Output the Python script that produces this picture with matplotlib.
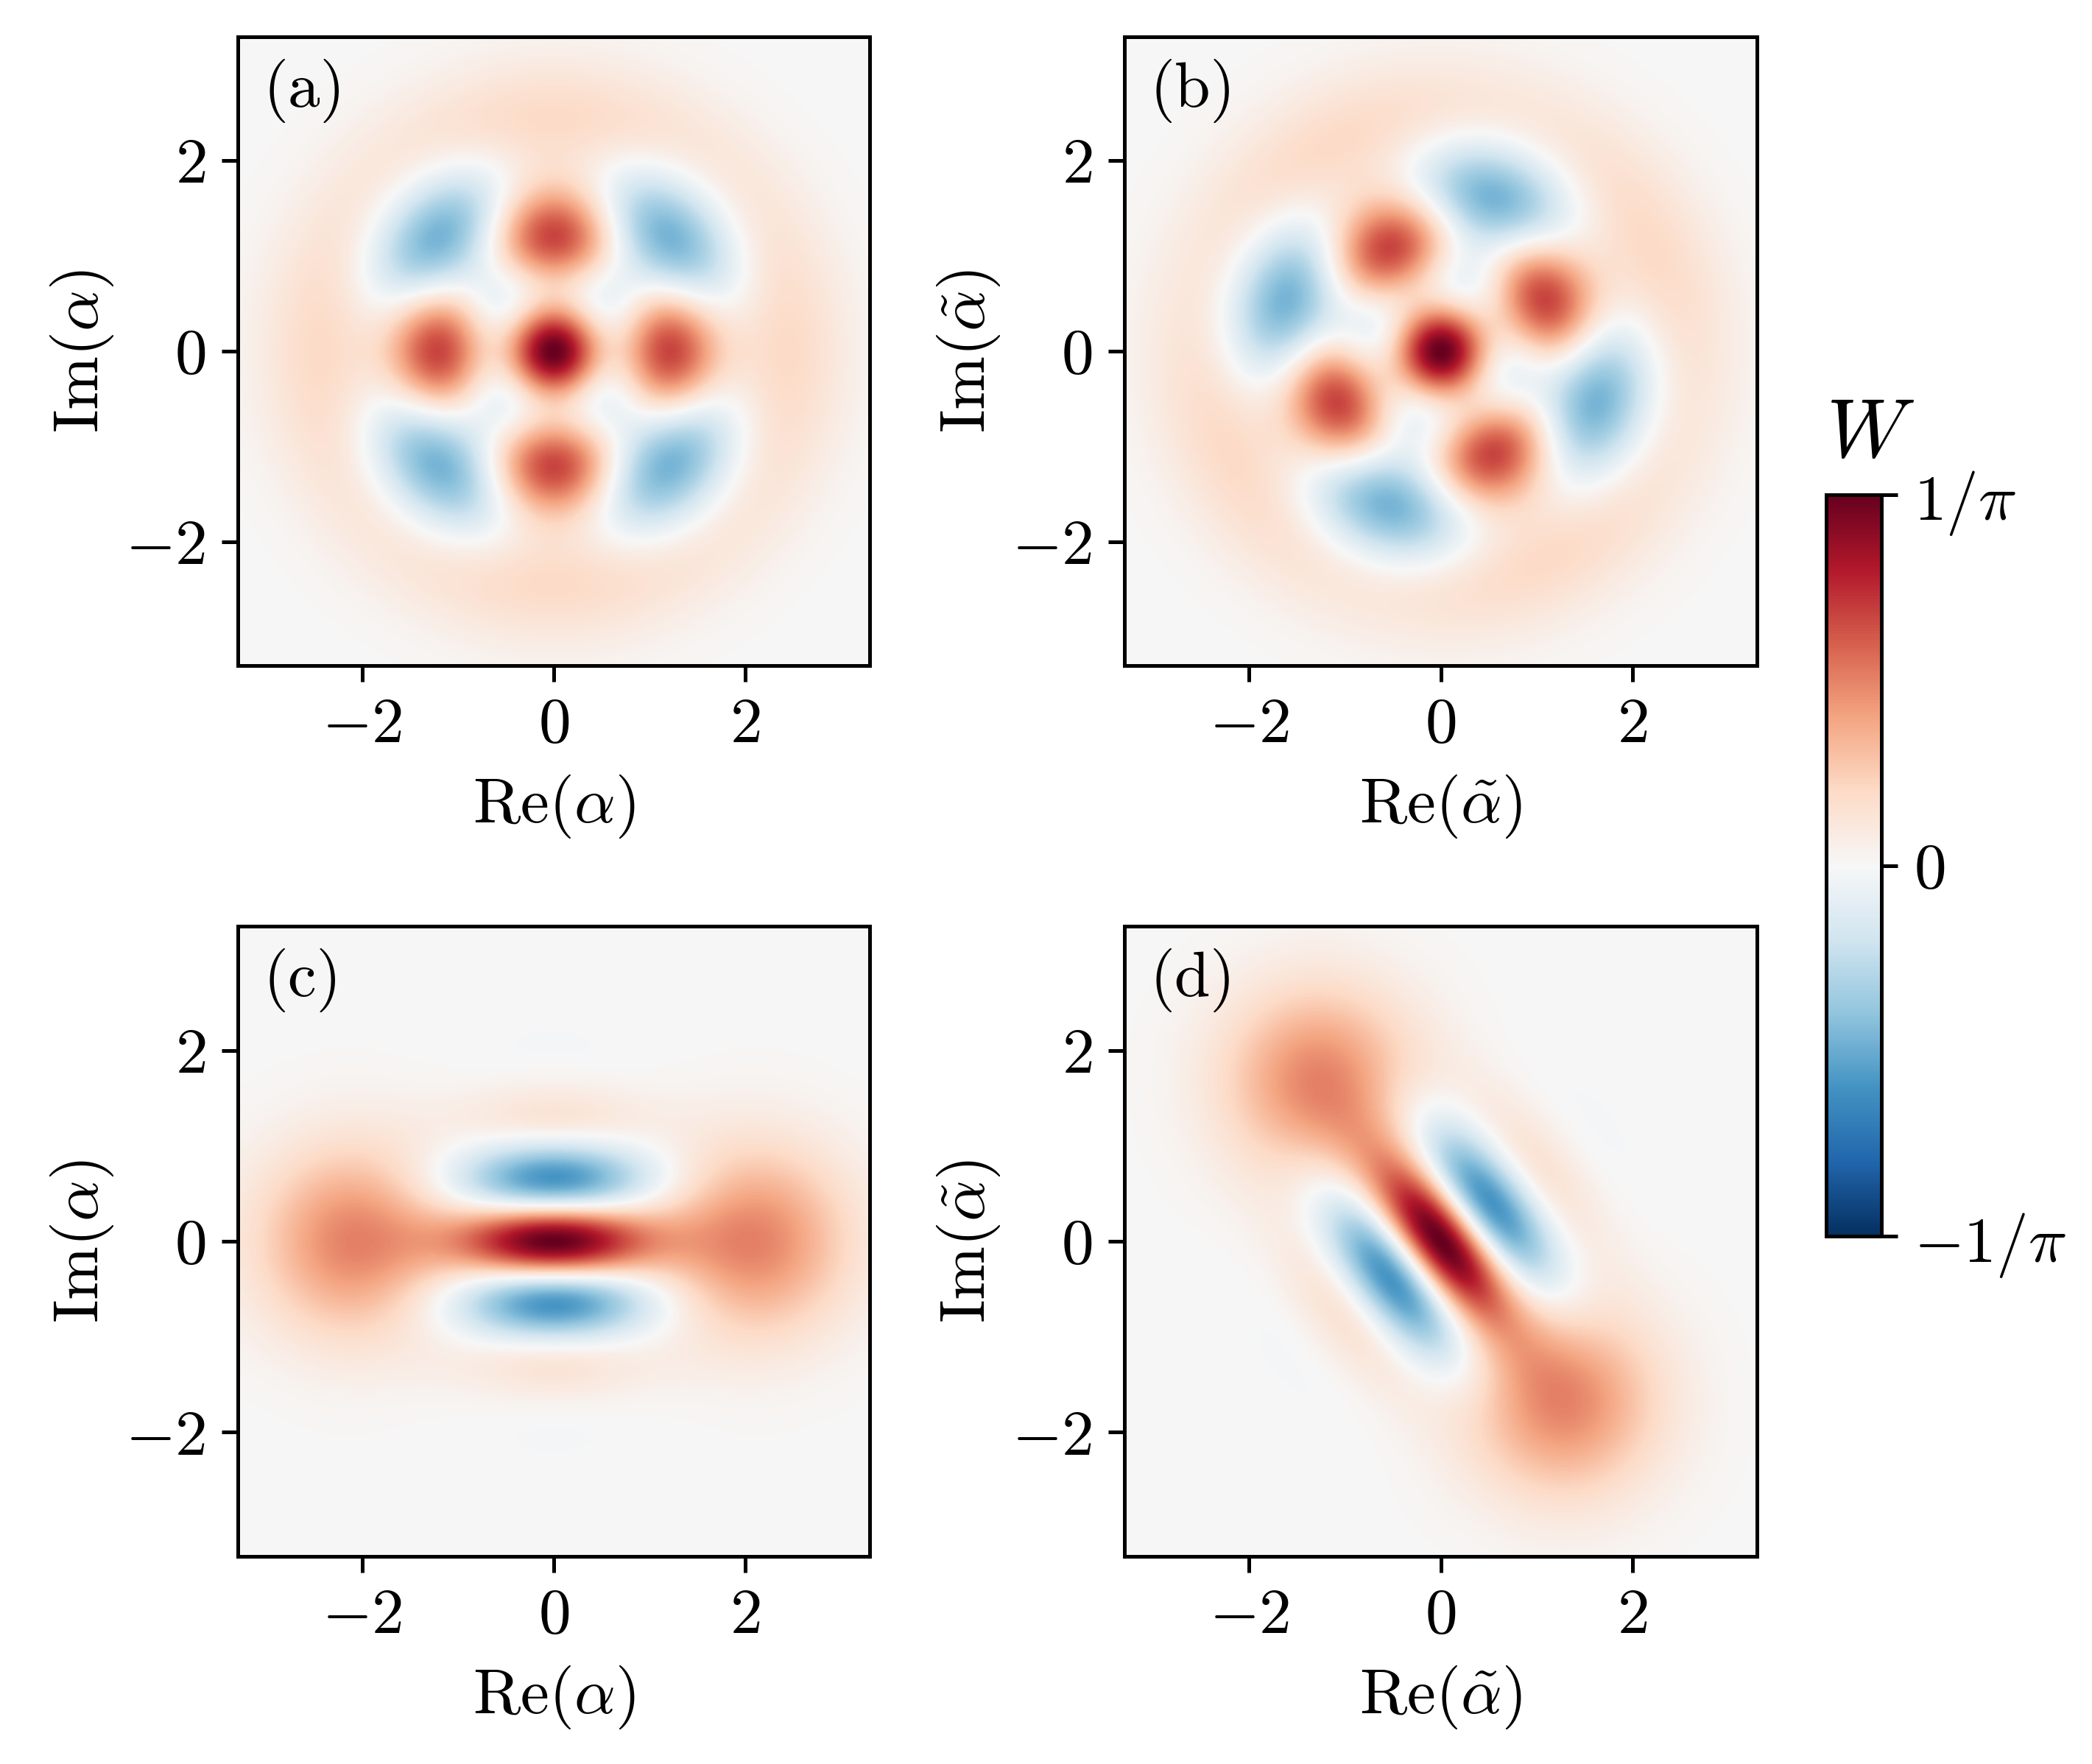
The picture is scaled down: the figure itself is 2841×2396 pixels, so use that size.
import numpy as np
import matplotlib
matplotlib.use("Agg")
import matplotlib.pyplot as plt

plt.rcParams.update({"font.family": ["cmr10", "DejaVu Sans"], "mathtext.fontset": "cm",
                     "axes.formatter.use_mathtext": True, "font.size": 14,
                     "axes.linewidth": 0.8})

# Fock-basis amplitudes (index = photon number)
amps_a = [1, 0, 0, 0, 1]
phase_a = 0.0
phase_b = np.deg2rad(26.5)
amps_c = [1, 0, 1.56, 0, 0.99, 0, 0.40, 0, 0.12, 0, 0.03, 0, 0.005]
phase_c = 0.0
phase_d = np.deg2rad(-52.8)
kerr_d = 0.0

panel_labels = ["(a)", "(b)", "(c)", "(d)"]
ticks = [-2, 0, 2]
tick_labels = [r"$-2$", r"$0$", r"$2$"]
limit = 3.3
cbar_ticks = [-1 / np.pi, 0, 1 / np.pi]
cbar_labels = [r"$-1/\pi$", r"$0$", r"$1/\pi$"]
grid_x = np.linspace(-limit, limit, 500)


def wigner(amps, phase=0.0, kerr=0.0):
    a = np.asarray(amps, float)
    n = np.arange(len(a))
    psi = a * np.exp(1j * (phase * n + kerr * n ** 2))
    psi = psi / np.linalg.norm(psi)
    rho = np.outer(psi, psi.conj())
    X, Y = np.meshgrid(grid_x, grid_x)
    A = np.sqrt(2) * (X + 1j * Y)
    M = len(psi)
    wl = [np.zeros_like(A) for _ in range(M)]
    wl[0] = np.exp(-0.5 * np.abs(A) ** 2) + 0j
    W = np.real(rho[0, 0]) * np.real(wl[0])
    for k in range(1, M):
        wl[k] = A * wl[k - 1] / np.sqrt(k)
        W = W + 2 * np.real(rho[0, k] * wl[k])
    for m in range(1, M):
        temp = wl[m].copy()
        wl[m] = (np.conj(A) * temp - np.sqrt(m) * wl[m - 1]) / np.sqrt(m)
        W = W + np.real(rho[m, m] * wl[m])
        for k in range(m + 1, M):
            temp2 = (A * wl[k - 1] - np.sqrt(m) * temp) / np.sqrt(k)
            temp = wl[k].copy()
            wl[k] = temp2
            W = W + 2 * np.real(rho[m, k] * wl[k])
    return W / np.pi


fields = [wigner(amps_a, phase_a), wigner(amps_a, phase_b),
          wigner(amps_c, phase_c), wigner(amps_c, phase_d, kerr_d)]

W_px, H_px = 2841, 2396
fig = plt.figure(figsize=(W_px / 450, H_px / 450), dpi=450)


def box(x0, x1, y0, y1):
    return [x0 / W_px, 1 - y1 / H_px, (x1 - x0) / W_px, (y1 - y0) / H_px]


boxes = [box(323, 1181, 50, 904), box(1527, 2386, 50, 904),
         box(323, 1181, 1258, 2114), box(1527, 2386, 1258, 2114)]
xlabels = [r"$\mathrm{Re}(\alpha)$", r"$\mathrm{Re}(\tilde{\alpha})$"] * 2
ylabels = [r"$\mathrm{Im}(\alpha)$", r"$\mathrm{Im}(\tilde{\alpha})$"] * 2

for i, b in enumerate(boxes):
    ax = fig.add_axes(b)
    im = ax.imshow(fields[i], origin="lower", extent=[-limit, limit, -limit, limit],
                   cmap="RdBu_r", vmin=-1 / np.pi, vmax=1 / np.pi, aspect="auto")
    ax.set_xticks(ticks, tick_labels)
    ax.set_yticks(ticks, tick_labels)
    ax.set_xlabel(xlabels[i])
    ax.set_ylabel(ylabels[i], labelpad=2)
    ax.text(0.04, 0.965, panel_labels[i], transform=ax.transAxes, va="top", ha="left")

cax = fig.add_axes(box(2480, 2555, 672, 1679))
cb = fig.colorbar(im, cax=cax)
cb.set_ticks(cbar_ticks, labels=cbar_labels)
cax.text(0.0, 1.03, r"$W$", transform=cax.transAxes, fontsize=18, ha="left", va="bottom")

fig.savefig("out.png", dpi=450)
